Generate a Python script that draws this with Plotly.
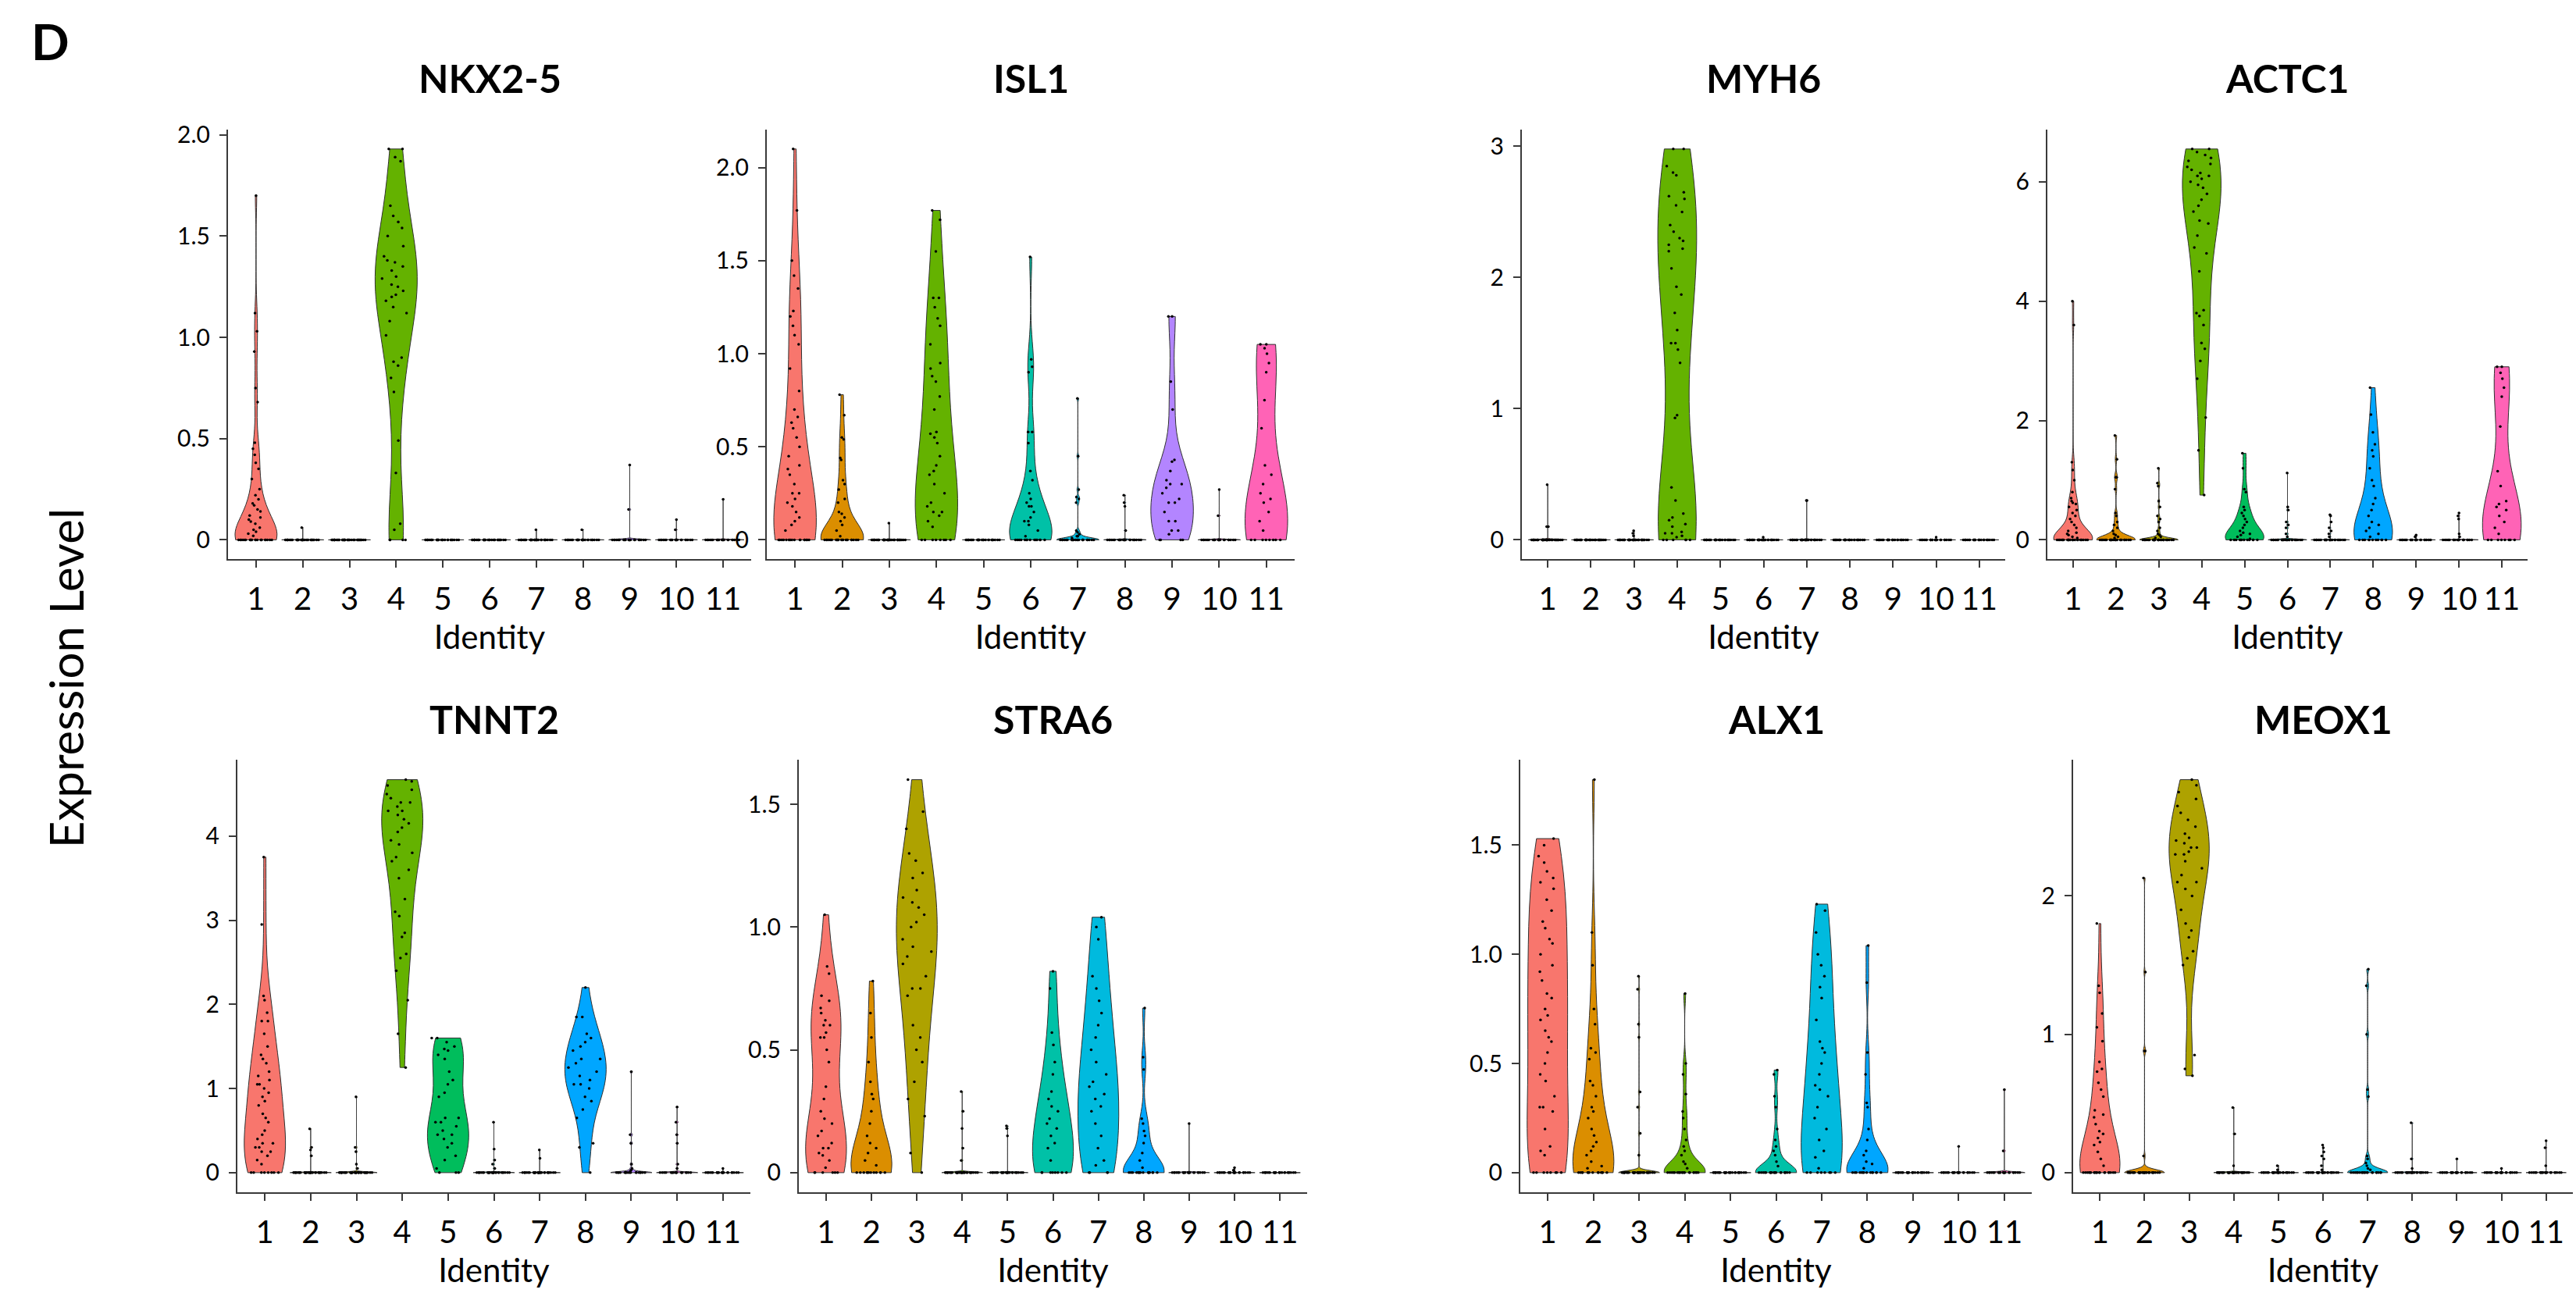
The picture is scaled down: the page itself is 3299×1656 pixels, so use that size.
import plotly.graph_objects as go

# ---------------- data ----------------
GENES = ["NKX2-5", "ISL1", "MYH6", "ACTC1", "TNNT2", "STRA6", "ALX1", "MEOX1"]
IDENTITIES = ["1", "2", "3", "4", "5", "6", "7", "8", "9", "10", "11"]
COLORS = ["#F8766D", "#DB8E00", "#AEA200", "#64B200", "#00BD5C", "#00C1A7",
          "#00BADE", "#00A6FF", "#B385FF", "#EF67EB", "#FF63B6"]

# non-zero expression values per identity, and the number of cells at zero
NKX2_5_VALUES = [
    [0.02, 0.03, 0.04, 0.05, 0.06, 0.08, 0.09, 0.1, 0.11, 0.12, 0.14, 0.15, 0.17, 0.18, 0.2, 0.22, 0.25, 0.3, 0.35, 0.38, 0.42, 0.45, 0.48, 0.68, 0.75, 0.93, 1.03, 1.12, 1.7],
    [0.06], [],
    [0.05, 0.08, 0.33, 0.49, 0.73, 0.8, 0.86, 0.88, 0.9, 1.01, 1.08, 1.12, 1.15, 1.18, 1.2, 1.21, 1.23, 1.25, 1.26, 1.29, 1.3, 1.33, 1.35, 1.37, 1.38, 1.4, 1.45, 1.5, 1.54, 1.57, 1.6, 1.65, 1.87, 1.89, 1.93, 1.93],
    [], [], [0.05], [0.05], [0.15, 0.37], [0.05, 0.1], [0.2]]
NKX2_5_ZEROS = [22, 39, 45, 4, 30, 35, 34, 29, 23, 23, 24]

ISL1_VALUES = [
    [0.05, 0.08, 0.1, 0.12, 0.15, 0.18, 0.2, 0.22, 0.25, 0.25, 0.3, 0.35, 0.38, 0.4, 0.45, 0.5, 0.55, 0.6, 0.63, 0.66, 0.7, 0.8, 0.92, 1.05, 1.1, 1.15, 1.2, 1.23, 1.35, 1.42, 1.5, 1.77, 2.1],
    [0.02, 0.05, 0.08, 0.1, 0.12, 0.14, 0.15, 0.2, 0.22, 0.27, 0.3, 0.32, 0.43, 0.44, 0.54, 0.55, 0.67, 0.78],
    [0.09],
    [0.07, 0.1, 0.13, 0.15, 0.15, 0.18, 0.2, 0.25, 0.3, 0.35, 0.37, 0.4, 0.45, 0.52, 0.55, 0.57, 0.58, 0.7, 0.77, 0.85, 0.88, 0.92, 0.95, 1.05, 1.15, 1.19, 1.25, 1.3, 1.3, 1.55, 1.72, 1.77],
    [],
    [0.02, 0.05, 0.08, 0.1, 0.1, 0.12, 0.15, 0.18, 0.18, 0.2, 0.22, 0.25, 0.32, 0.37, 0.52, 0.58, 0.58, 0.9, 0.93, 0.97, 1.52],
    [0.01, 0.02, 0.02, 0.03, 0.04, 0.05, 0.2, 0.22, 0.23, 0.27, 0.45, 0.76],
    [0.05, 0.18, 0.2, 0.24],
    [0.03, 0.05, 0.05, 0.1, 0.1, 0.15, 0.2, 0.2, 0.22, 0.25, 0.28, 0.3, 0.3, 0.32, 0.37, 0.42, 0.43, 0.7, 0.85, 1.2, 1.2],
    [0.13, 0.27],
    [0.05, 0.1, 0.15, 0.2, 0.22, 0.25, 0.3, 0.35, 0.4, 0.6, 0.75, 0.9, 0.95, 1.0, 1.03, 1.05, 1.05]]
ISL1_ZEROS = [17, 22, 44, 8, 30, 14, 23, 26, 4, 23, 8]

MYH6_VALUES = [
    [0.1, 0.1, 0.42], [], [0.03, 0.05, 0.07],
    [0.02, 0.03, 0.05, 0.05, 0.06, 0.1, 0.12, 0.15, 0.17, 0.2, 0.3, 0.4, 0.93, 0.95, 1.35, 1.45, 1.5, 1.5, 1.6, 1.73, 1.87, 1.93, 2.07, 2.2, 2.22, 2.25, 2.28, 2.3, 2.35, 2.4, 2.5, 2.55, 2.6, 2.62, 2.65, 2.78, 2.8, 2.85, 2.98, 2.98],
    [], [0.02], [0.3, 0.3], [], [], [0.02], []]
MYH6_ZEROS = [47, 40, 42, 6, 30, 34, 33, 30, 25, 24, 25]

ACTC1_VALUES = [
    [0.03, 0.05, 0.08, 0.1, 0.12, 0.15, 0.2, 0.25, 0.3, 0.35, 0.4, 0.45, 0.5, 0.55, 0.6, 0.62, 0.65, 0.7, 0.8, 1.0, 1.17, 1.3, 3.6, 4.0],
    [0.03, 0.05, 0.08, 0.1, 0.15, 0.2, 0.25, 0.3, 0.4, 0.45, 0.85, 1.05, 1.05, 1.35, 1.75],
    [0.03, 0.05, 0.08, 0.1, 0.15, 0.2, 0.3, 0.35, 0.4, 0.55, 0.65, 0.9, 0.95, 1.2],
    [0.75, 1.5, 2.05, 2.7, 3.0, 3.2, 3.3, 3.6, 3.75, 3.8, 3.85, 4.5, 4.8, 4.9, 5.1, 5.3, 5.35, 5.5, 5.6, 5.7, 5.8, 5.9, 5.95, 6.0, 6.05, 6.1, 6.1, 6.15, 6.2, 6.25, 6.3, 6.35, 6.4, 6.45, 6.5, 6.55, 6.55],
    [0.02, 0.05, 0.08, 0.1, 0.12, 0.15, 0.2, 0.25, 0.3, 0.35, 0.4, 0.45, 0.5, 0.55, 0.8, 0.85, 1.2, 1.45],
    [0.05, 0.1, 0.2, 0.25, 0.3, 0.5, 0.55, 1.12],
    [0.05, 0.1, 0.15, 0.2, 0.3, 0.4, 0.42],
    [0.05, 0.1, 0.15, 0.2, 0.25, 0.3, 0.4, 0.5, 0.6, 0.7, 0.9, 1.0, 1.2, 1.4, 1.5, 1.6, 1.8, 2.1, 2.55],
    [0.05, 0.08],
    [0.05, 0.1, 0.35, 0.4, 0.45],
    [0.1, 0.2, 0.3, 0.4, 0.5, 0.55, 0.6, 0.65, 0.9, 1.15, 1.9, 2.4, 2.55, 2.7, 2.8, 2.9, 2.9]]
ACTC1_ZEROS = [26, 25, 31, 0, 12, 27, 28, 11, 23, 20, 8]

TNNT2_VALUES = [
    [0.1, 0.15, 0.2, 0.25, 0.25, 0.3, 0.3, 0.35, 0.35, 0.4, 0.45, 0.5, 0.6, 0.65, 0.7, 0.8, 0.85, 0.9, 0.95, 1.0, 1.05, 1.05, 1.1, 1.15, 1.2, 1.3, 1.35, 1.4, 1.5, 1.65, 1.8, 1.8, 1.9, 2.05, 2.1, 2.95, 3.75],
    [0.2, 0.27, 0.3, 0.52],
    [0.05, 0.1, 0.25, 0.3, 0.9],
    [1.25, 1.65, 2.05, 2.4, 2.55, 2.6, 2.8, 2.85, 3.05, 3.1, 3.25, 3.5, 3.6, 3.7, 3.75, 3.8, 3.9, 3.95, 4.05, 4.1, 4.15, 4.2, 4.25, 4.3, 4.3, 4.35, 4.4, 4.4, 4.45, 4.5, 4.55, 4.6, 4.65, 4.67],
    [0.05, 0.15, 0.2, 0.3, 0.35, 0.4, 0.45, 0.45, 0.5, 0.55, 0.6, 0.6, 0.65, 0.65, 0.9, 0.95, 1.05, 1.1, 1.2, 1.35, 1.4, 1.45, 1.47, 1.5, 1.55, 1.6, 1.6],
    [0.05, 0.1, 0.15, 0.28, 0.6],
    [0.17, 0.27],
    [0.3, 0.35, 0.65, 0.75, 0.85, 0.9, 1.0, 1.05, 1.05, 1.1, 1.15, 1.2, 1.25, 1.3, 1.35, 1.35, 1.45, 1.5, 1.55, 1.6, 1.65, 1.85, 1.85, 2.2],
    [0.02, 0.03, 0.05, 0.1, 0.35, 0.45, 1.2],
    [0.05, 0.1, 0.35, 0.45, 0.6, 0.78],
    [0.05]]
TNNT2_ZEROS = [8, 36, 40, 0, 3, 30, 33, 1, 18, 19, 24]

STRA6_VALUES = [
    [0.02, 0.05, 0.07, 0.08, 0.1, 0.1, 0.12, 0.15, 0.17, 0.2, 0.22, 0.25, 0.3, 0.35, 0.45, 0.5, 0.55, 0.55, 0.57, 0.6, 0.6, 0.62, 0.65, 0.67, 0.7, 0.72, 0.81, 0.84, 1.05],
    [0.03, 0.05, 0.08, 0.1, 0.12, 0.15, 0.2, 0.25, 0.3, 0.32, 0.37, 0.45, 0.55, 0.65, 0.78],
    [0.08, 0.23, 0.3, 0.37, 0.45, 0.5, 0.55, 0.6, 0.72, 0.75, 0.75, 0.8, 0.85, 0.88, 0.9, 0.92, 0.95, 1.0, 1.02, 1.05, 1.08, 1.1, 1.12, 1.15, 1.2, 1.22, 1.27, 1.3, 1.4, 1.47, 1.6],
    [0.05, 0.1, 0.18, 0.25, 0.33],
    [0.15, 0.18, 0.19],
    [0.05, 0.1, 0.12, 0.15, 0.18, 0.2, 0.22, 0.25, 0.27, 0.3, 0.33, 0.4, 0.45, 0.52, 0.57, 0.75, 0.82],
    [0.03, 0.05, 0.1, 0.15, 0.2, 0.25, 0.27, 0.3, 0.32, 0.35, 0.37, 0.4, 0.45, 0.5, 0.55, 0.6, 0.65, 0.7, 0.75, 0.8, 0.95, 1.0, 1.04],
    [0.02, 0.05, 0.08, 0.12, 0.15, 0.17, 0.2, 0.22, 0.42, 0.47, 0.67],
    [0.2], [0.01, 0.02], []]
STRA6_ZEROS = [6, 12, 1, 35, 27, 8, 4, 16, 24, 23, 25]

ALX1_VALUES = [
    [0.08, 0.1, 0.12, 0.2, 0.28, 0.3, 0.3, 0.35, 0.42, 0.45, 0.5, 0.55, 0.6, 0.62, 0.65, 0.7, 0.72, 0.75, 0.8, 0.82, 0.88, 0.92, 0.95, 1.0, 1.05, 1.07, 1.12, 1.15, 1.2, 1.25, 1.3, 1.33, 1.35, 1.38, 1.42, 1.45, 1.5, 1.53],
    [0.02, 0.03, 0.05, 0.08, 0.1, 0.12, 0.14, 0.17, 0.2, 0.25, 0.28, 0.3, 0.35, 0.4, 0.42, 0.52, 0.55, 0.57, 0.68, 0.75, 0.95, 1.1, 1.8],
    [0.08, 0.18, 0.3, 0.37, 0.62, 0.68, 0.84, 0.9],
    [0.02, 0.04, 0.05, 0.08, 0.1, 0.12, 0.15, 0.2, 0.25, 0.28, 0.36, 0.45, 0.5, 0.82],
    [],
    [0.03, 0.05, 0.08, 0.1, 0.12, 0.15, 0.2, 0.3, 0.35, 0.45, 0.47],
    [0.02, 0.07, 0.1, 0.15, 0.2, 0.25, 0.3, 0.35, 0.38, 0.4, 0.45, 0.5, 0.55, 0.57, 0.6, 0.7, 0.8, 0.85, 0.9, 0.95, 1.0, 1.1, 1.2, 1.23],
    [0.02, 0.04, 0.05, 0.08, 0.1, 0.15, 0.2, 0.3, 0.32, 0.45, 0.55, 0.87, 1.04],
    [], [0.12], [0.1, 0.38]]
ALX1_ZEROS = [8, 14, 37, 20, 30, 20, 8, 14, 25, 24, 23]

MEOX1_VALUES = [
    [0.05, 0.1, 0.15, 0.2, 0.22, 0.25, 0.28, 0.3, 0.35, 0.4, 0.42, 0.45, 0.55, 0.6, 0.65, 0.73, 0.75, 0.8, 0.95, 1.05, 1.15, 1.3, 1.35, 1.8],
    [0.12, 0.88, 0.88, 1.45, 2.13],
    [0.7, 0.75, 0.85, 1.5, 1.55, 1.6, 1.7, 1.75, 1.8, 1.9, 2.0, 2.05, 2.1, 2.1, 2.15, 2.2, 2.25, 2.3, 2.3, 2.32, 2.35, 2.35, 2.38, 2.4, 2.42, 2.45, 2.5, 2.55, 2.6, 2.65, 2.7, 2.75, 2.8, 2.84],
    [0.05, 0.28, 0.47],
    [0.02, 0.05],
    [0.02, 0.05, 0.1, 0.12, 0.15, 0.18, 0.2],
    [0.02, 0.03, 0.05, 0.07, 0.1, 0.12, 0.55, 0.6, 1.0, 1.35, 1.47],
    [0.03, 0.1, 0.36],
    [0.1], [0.03], [0.05, 0.18, 0.23]]
MEOX1_ZEROS = [20, 35, 0, 37, 28, 28, 20, 27, 24, 24, 22]

GENE_VALUES = [NKX2_5_VALUES, ISL1_VALUES, MYH6_VALUES, ACTC1_VALUES,
               TNNT2_VALUES, STRA6_VALUES, ALX1_VALUES, MEOX1_VALUES]
GENE_ZEROS = [NKX2_5_ZEROS, ISL1_ZEROS, MYH6_ZEROS, ACTC1_ZEROS,
              TNNT2_ZEROS, STRA6_ZEROS, ALX1_ZEROS, MEOX1_ZEROS]

Y_TICKS = [[0, 0.5, 1.0, 1.5, 2.0], [0, 0.5, 1.0, 1.5, 2.0], [0, 1, 2, 3], [0, 2, 4, 6],
           [0, 1, 2, 3, 4], [0, 0.5, 1.0, 1.5], [0, 0.5, 1.0, 1.5], [0, 1, 2]]
Y_TICK_TEXT = [["0", "0.5", "1.0", "1.5", "2.0"], ["0", "0.5", "1.0", "1.5", "2.0"],
               ["0", "1", "2", "3"], ["0", "2", "4", "6"], ["0", "1", "2", "3", "4"],
               ["0", "0.5", "1.0", "1.5"], ["0", "0.5", "1.0", "1.5"], ["0", "1", "2"]]

# ---------------- layout geometry (pixels) ----------------
W, H = 3299, 1656
PANEL_X = [(292, 962), (982, 1658), (1949, 2568), (2622, 3237),
           (304, 961), (1023, 1674), (1947, 2602), (2655, 3295)]
ROW_Y = [(154, 709), (968, 1526)]
TITLE_Y = [88, 915]

FONT = "Lato"
AXIS_COLOR = "#3a3a3a"

fig = go.Figure()
layout = dict(width=W, height=H, margin=dict(l=0, r=0, t=0, b=0),
              paper_bgcolor="white", plot_bgcolor="white",
              violinmode="overlay", violingap=0, violingroupgap=0, showlegend=False,
              font=dict(family=FONT, color="black"))
annotations = []

for g, gene in enumerate(GENES):
    k = g + 1
    xa = "x" if k == 1 else f"x{k}"
    ya = "y" if k == 1 else f"y{k}"
    row = 0 if g < 4 else 1
    x0, x1 = PANEL_X[g]
    yt, yb = ROW_Y[row]
    all_vals = []
    for i, ident in enumerate(IDENTITIES):
        vals = [0.0] * GENE_ZEROS[g][i] + GENE_VALUES[g][i]
        all_vals += vals
        fig.add_trace(go.Violin(
            y=vals, x0=i + 1, xaxis=xa, yaxis=ya,
            name=ident, width=0.9, scalemode="width", spanmode="hard",
            scalegroup=f"{gene}_{ident}",
            fillcolor=COLORS[i], opacity=1,
            line=dict(color="#303030", width=1),
            points="all", jitter=0.85, pointpos=0,
            marker=dict(size=3.5, color="black", line=dict(width=0)),
            hoverinfo="skip", showlegend=False,
        ))
    ymax = max(all_vals)
    pad = 0.05 * ymax
    axis_common = dict(showline=True, linecolor=AXIS_COLOR, linewidth=2,
                       ticks="outside", ticklen=9, tickwidth=1.5, tickcolor=AXIS_COLOR,
                       showgrid=False, zeroline=False, mirror=False)
    layout[("xaxis" if k == 1 else f"xaxis{k}")] = dict(
        domain=[x0 / W, x1 / W], anchor=ya, range=[0.4, 11.6],
        tickmode="array", tickvals=list(range(1, 12)), ticktext=IDENTITIES,
        tickfont=dict(size=40, family=FONT, color="black"), ticklabelstandoff=6,
        title=dict(text="Identity", font=dict(size=42, family=FONT, color="black"), standoff=8),
        **axis_common)
    layout[("yaxis" if k == 1 else f"yaxis{k}")] = dict(
        domain=[1 - yb / H, 1 - yt / H], anchor=xa, range=[-pad, ymax + pad],
        tickmode="array", tickvals=Y_TICKS[g], ticktext=Y_TICK_TEXT[g],
        tickfont=dict(size=30, family=FONT, color="black"), ticklabelstandoff=6,
        **axis_common)
    annotations.append(dict(text=f"<b>{gene}</b>", x=(x0 + x1) / 2 / W, y=1 - TITLE_Y[row] / H,
                            xref="paper", yref="paper", xanchor="center", yanchor="middle",
                            showarrow=False, font=dict(size=50, family=FONT, color="black")))

annotations.append(dict(text="<b>D</b>", x=38 / W, y=1 - 40 / H, xref="paper", yref="paper",
                        xanchor="left", yanchor="middle", showarrow=False,
                        font=dict(size=64, family=FONT, color="black")))
annotations.append(dict(text="Expression Level", x=84 / W, y=1 - 863 / H, xref="paper", yref="paper",
                        xanchor="center", yanchor="middle", showarrow=False, textangle=-90,
                        font=dict(size=60, family=FONT, color="black")))
layout["annotations"] = annotations
fig.update_layout(**layout)

fig.write_html("out.html", config={"displayModeBar": False},
               post_script="document.body.style.margin='0';")
